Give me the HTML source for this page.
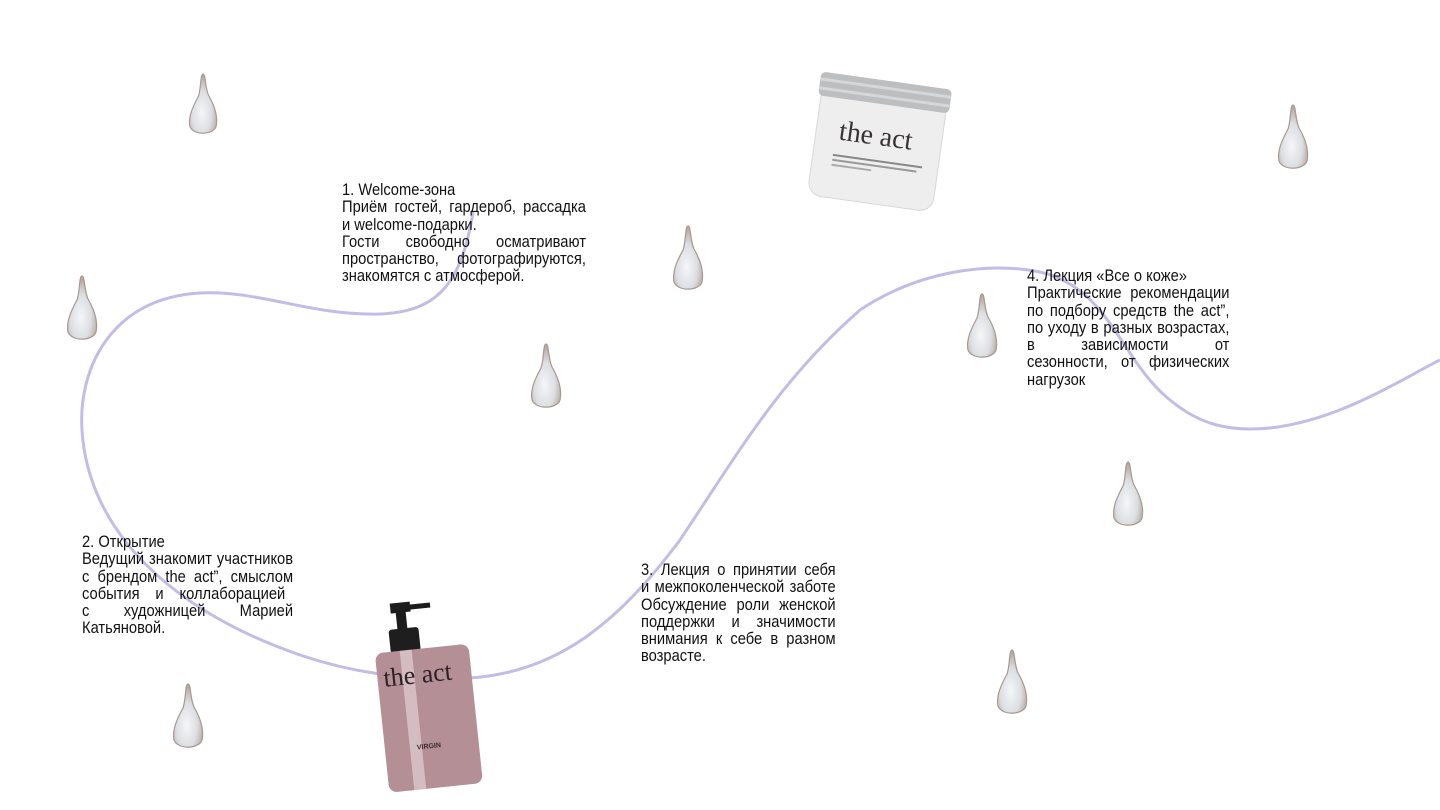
<!DOCTYPE html>
<html><head><meta charset="utf-8"><style>
html,body{margin:0;padding:0;background:#fff;}
body{width:1440px;height:810px;position:relative;overflow:hidden;}
.t{position:absolute;font-family:"Liberation Sans",sans-serif;font-size:17px;line-height:17.3px;color:#111;transform:scaleX(0.865);transform-origin:0 0;}
.t div{white-space:nowrap;text-align:left}
.t div.j{text-align:justify;text-align-last:justify}
</style></head><body>
<svg width="1440" height="810" style="position:absolute;left:0;top:0">
<defs>
<radialGradient id="g" cx="0.45" cy="0.65" r="0.6">
<stop offset="0" stop-color="#f4f6f8"/><stop offset="0.6" stop-color="#dcdfe2"/><stop offset="1" stop-color="#b9aaa3"/></radialGradient>
<symbol id="drop" viewBox="0 0 32 68"><path d="M16 2 C19 2 18 16 22 25 C29 37 32 48 30 58 C27 67 6 68 2 58 C0 48 5 37 11 26 C14 18 13 2 16 2Z" fill="url(#g)" stroke="#a8988f" stroke-width="1.2"/></symbol>
</defs>
<path d="M473 212 C462 280 440 312 380 314 C310 316 260 290 200 293 C110 298 78 370 82 430 C88 530 170 610 300 655 C350 672 400 680 470 678 C560 672 620 620 680 540 C740 450 780 380 860 310 C920 270 990 262 1040 272 C1110 288 1120 360 1170 400 C1200 425 1230 432 1270 428 C1340 420 1400 380 1440 360" fill="none" stroke="#c3bde6" stroke-width="3"/>
<use href="#drop" x="188" y="70" width="30" height="68"/>
<use href="#drop" x="66" y="273" width="32" height="70"/>
<use href="#drop" x="530" y="342" width="32" height="68"/>
<use href="#drop" x="672" y="224" width="32" height="68"/>
<use href="#drop" x="966" y="292" width="32" height="68"/>
<use href="#drop" x="1277" y="103" width="32" height="68"/>
<use href="#drop" x="1112" y="460" width="32" height="68"/>
<use href="#drop" x="996" y="648" width="32" height="68"/>
<use href="#drop" x="172" y="682" width="32" height="68"/>
<g transform="rotate(8 878 143)">
<rect x="815" y="92" width="126" height="112" rx="14" fill="#eeeeef" stroke="#d8d8da"/>
<rect x="812" y="80" width="132" height="24" rx="5" fill="#bcbec0"/>
<rect x="812" y="86" width="132" height="3" fill="#d6d7d8"/>
<rect x="812" y="95" width="132" height="3" fill="#d6d7d8"/>
<text x="838" y="145" font-family="Liberation Serif,serif" font-size="28" fill="#3a3336">the act</text>
<rect x="835" y="160" width="90" height="2" fill="#888"/>
<rect x="835" y="165" width="85" height="2" fill="#999"/>
<rect x="835" y="170" width="40" height="2" fill="#aaa"/>
</g>
<g transform="rotate(-6 430 700)">
<rect x="400" y="600" width="20" height="10" fill="#1c1c1c"/>
<rect x="418" y="603" width="22" height="5" fill="#1c1c1c"/>
<rect x="405" y="608" width="10" height="20" fill="#1c1c1c"/>
<rect x="396" y="626" width="30" height="24" rx="3" fill="#1e1e1e"/>
<rect x="380" y="648" width="94" height="140" rx="8" fill="#b48f96"/>
<rect x="405" y="648" width="12" height="140" fill="#dcc8cb" opacity="0.8"/>
<text x="386" y="682" font-family="Liberation Serif,serif" font-size="26" fill="#2c2226">the act</text>
<text x="412" y="748" font-family="Liberation Sans,sans-serif" font-size="7" font-weight="bold" fill="#3a2a2e">VIRGIN</text>
</g>
</svg>
<div class="t" style="left:342px;top:181px;width:282px">
<div>1. Welcome-зона</div>
<div class="j">Приём гостей, гардероб, рассадка</div>
<div>и welcome-подарки.</div>
<div class="j">Гости свободно осматривают</div>
<div class="j">пространство, фотографируются,</div>
<div>знакомятся с атмосферой.</div>
</div>
<div class="t" style="left:82px;top:533px;width:244px">
<div>2. Открытие</div>
<div class="j">Ведущий знакомит участников</div>
<div class="j">с брендом the act”, смыслом</div>
<div class="j" style="width:235px">события и коллаборацией</div>
<div class="j">с художницей Марией</div>
<div>Катьяновой.</div>
</div>
<div class="t" style="left:641px;top:561px;width:225px">
<div class="j">3. Лекция о принятии себя</div>
<div class="j">и межпоколенческой заботе</div>
<div class="j">Обсуждение роли женской</div>
<div class="j">поддержки и значимости</div>
<div class="j">внимания к себе в разном</div>
<div>возрасте.</div>
</div>
<div class="t" style="left:1027px;top:267px;width:234px">
<div>4. Лекция «Все о коже»</div>
<div class="j">Практические рекомендации</div>
<div class="j">по подбору средств the act”,</div>
<div class="j">по уходу в разных возрастах,</div>
<div class="j">в зависимости от</div>
<div class="j">сезонности, от физических</div>
<div>нагрузок</div>
</div>
</body></html>
